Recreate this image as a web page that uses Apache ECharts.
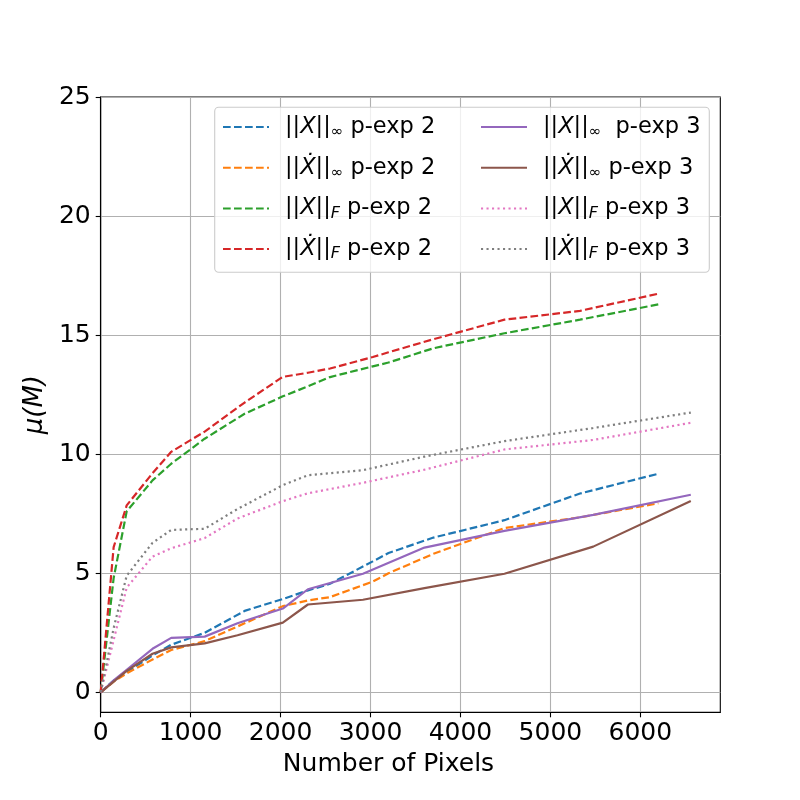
<!DOCTYPE html>
<html>
<head>
<meta charset="utf-8">
<script src="https://cdn.jsdelivr.net/npm/echarts@6/dist/echarts.min.js"></script>
<style>
html, body { margin: 0; padding: 0; background: #fff; }
#main { width: 800px; height: 800px; }
</style>
</head>
<body>
<div id="main"></div>
<script>
// number of pixels (x) for each experiment
var pixels2 = [0, 144, 289, 576, 784, 1156, 1600, 2025, 2304, 2550, 3025, 3200, 3700, 4489, 5329, 6200];
var pixels3 = [0, 144, 289, 576, 784, 1156, 1521, 2025, 2304, 2916, 3600, 4489, 5476, 6561];

// p-exp 2
var xInf2  = [0, 0.5, 0.85, 1.55, 2.0, 2.5, 3.42, 3.92, 4.28, 4.56, 5.5, 5.85, 6.5, 7.23, 8.35, 9.18];
var xdInf2 = [0, 0.45, 0.8, 1.38, 1.78, 2.15, 2.9, 3.62, 3.86, 4.0, 4.65, 5.0, 5.82, 6.9, 7.35, 7.94];
var xF2    = [0, 4.8, 7.6, 8.9, 9.6, 10.65, 11.7, 12.43, 12.85, 13.24, 13.69, 13.85, 14.45, 15.08, 15.65, 16.29];
var xdF2   = [0, 6.1, 7.85, 9.2, 10.1, 10.95, 12.17, 13.25, 13.42, 13.6, 14.08, 14.28, 14.83, 15.65, 16.02, 16.74];

// p-exp 3
var xInf3  = [0, 0.5, 0.95, 1.83, 2.29, 2.34, 2.9, 3.52, 4.33, 4.98, 6.08, 6.78, 7.45, 8.3];
var xdInf3 = [0, 0.45, 0.9, 1.62, 1.89, 2.06, 2.4, 2.93, 3.69, 3.89, 4.38, 4.98, 6.12, 8.04];
var xF3    = [0, 2.2, 4.4, 5.7, 6.05, 6.48, 7.3, 8.03, 8.36, 8.8, 9.35, 10.2, 10.6, 11.32];
var xdF3   = [0, 2.7, 4.9, 6.28, 6.82, 6.87, 7.7, 8.7, 9.12, 9.33, 9.9, 10.55, 11.1, 11.75];

var xTicks = [0, 1000, 2000, 3000, 4000, 5000, 6000];
var yTicks = [0, 5, 10, 15, 20, 25];

var names = [
    '||X||∞ p-exp 2', '||Ẋ||∞ p-exp 2', '||X||F p-exp 2', '||Ẋ||F p-exp 2',
    '||X||∞  p-exp 3', '||Ẋ||∞ p-exp 3', '||X||F p-exp 3', '||Ẋ||F p-exp 3'
];
var colors = ['#1f77b4', '#ff7f0e', '#2ca02c', '#d62728', '#9467bd', '#8c564b', '#e377c2', '#7f7f7f'];

var dashed = [7.7, 3.3];
var dotted = [2.1, 3.4];

function pairs(xs, ys) {
    return xs.map(function(x, i) { return [x, ys[i]]; });
}

function makeSeries(i, xs, ys, dash) {
    return {
        name: names[i],
        type: 'line',
        data: pairs(xs, ys),
        symbol: 'none',
        color: colors[i],
        lineStyle: { width: 2.2, type: dash, color: colors[i] },
        animation: false
    };
}

var series = [
    makeSeries(0, pixels2, xInf2, dashed),
    makeSeries(1, pixels2, xdInf2, dashed),
    makeSeries(2, pixels2, xF2, dashed),
    makeSeries(3, pixels2, xdF2, dashed),
    makeSeries(4, pixels3, xInf3, 'solid'),
    makeSeries(5, pixels3, xdInf3, 'solid'),
    makeSeries(6, pixels3, xF3, dotted),
    makeSeries(7, pixels3, xdF3, dotted)
];

// mathtext-ish legend labels
function legendText(name) {
    return name
        .replace('Ẋ', '{i|Ẋ}')
        .replace(/\|\|X\|\|/, '||{i|X}||')
        .replace('∞', '{s|∞}')
        .replace('||F', '||{f|F}');
}

var legendStyle = {
    fontFamily: 'DejaVu Sans',
    fontSize: 22.5,
    color: '#000',
    lineHeight: 26,
    padding: [0, 0, 0, 11],
    rich: {
        i: { fontFamily: 'DejaVu Sans', fontStyle: 'italic', fontSize: 22.5, lineHeight: 26 },
        s: { fontFamily: 'DejaVu Sans', fontSize: 15, lineHeight: 26, padding: [10, 0, 0, 0] },
        f: { fontFamily: 'DejaVu Sans', fontStyle: 'italic', fontSize: 16, lineHeight: 26, padding: [10, 0, 0, 0] }
    }
};

function makeLegend(left, items) {
    return {
        data: items,
        orient: 'vertical',
        left: left,
        top: 114,
        padding: 0,
        itemWidth: 46,
        itemHeight: 12,
        itemGap: 14.7,
        itemStyle: { opacity: 0 },
        formatter: legendText,
        textStyle: legendStyle,
        selectedMode: false
    };
}

var myChart = echarts.init(document.getElementById('main'), null, { renderer: 'canvas' });

var option = {
    backgroundColor: '#fff',
    animation: false,
    grid: {
        left: 100.7,
        right: 79.7,
        top: 97,
        bottom: 87.7,
        show: true,
        borderColor: '#000',
        borderWidth: 1.1,
        backgroundColor: 'transparent'
    },
    legend: [
        makeLegend(222, names.slice(0, 4)),
        makeLegend(480, names.slice(4))
    ],
    graphic: [{
        type: 'rect',
        z: 3,
        shape: { x: 214.7, y: 107.3, width: 494.6, height: 165, r: 4 },
        style: { fill: 'rgba(255,255,255,0.8)', stroke: '#cccccc', lineWidth: 1.1 }
    }],
    xAxis: {
        type: 'value',
        min: 0,
        max: 6889,
        interval: 1000,
        name: 'Number of Pixels',
        nameLocation: 'middle',
        nameGap: 40,
        nameTextStyle: { fontFamily: 'DejaVu Sans', fontSize: 25, color: '#000', padding: [0, 44, 0, 0] },
        axisLine: { onZero: false, lineStyle: { color: '#000', width: 1.1 } },
        axisTick: { show: true, length: 5, lineStyle: { color: '#000', width: 1.1 }, customValues: xTicks },
        axisLabel: {
            fontFamily: 'DejaVu Sans', fontSize: 25, color: '#000', margin: 9, customValues: xTicks,
            formatter: function(v) { return String(v); }
        },
        splitLine: { show: true, lineStyle: { color: '#b0b0b0', width: 1.1 } }
    },
    yAxis: {
        type: 'value',
        min: -0.837,
        max: 25,
        name: 'μ(M)',
        nameLocation: 'middle',
        nameGap: 49,
        nameTextStyle: { fontFamily: 'DejaVu Sans', fontStyle: 'italic', fontSize: 26, color: '#000' },
        axisLine: { onZero: false, lineStyle: { color: '#000', width: 1.1 } },
        axisTick: { show: true, length: 5, lineStyle: { color: '#000', width: 1.1 }, customValues: yTicks },
        axisLabel: {
            fontFamily: 'DejaVu Sans', fontSize: 25, color: '#000', margin: 10, customValues: yTicks,
            formatter: function(v) { return String(v); }
        },
        splitLine: { show: true, lineStyle: { color: '#b0b0b0', width: 1.1 } }
    },
    series: series
};

myChart.setOption(option);
</script>
</body>
</html>
